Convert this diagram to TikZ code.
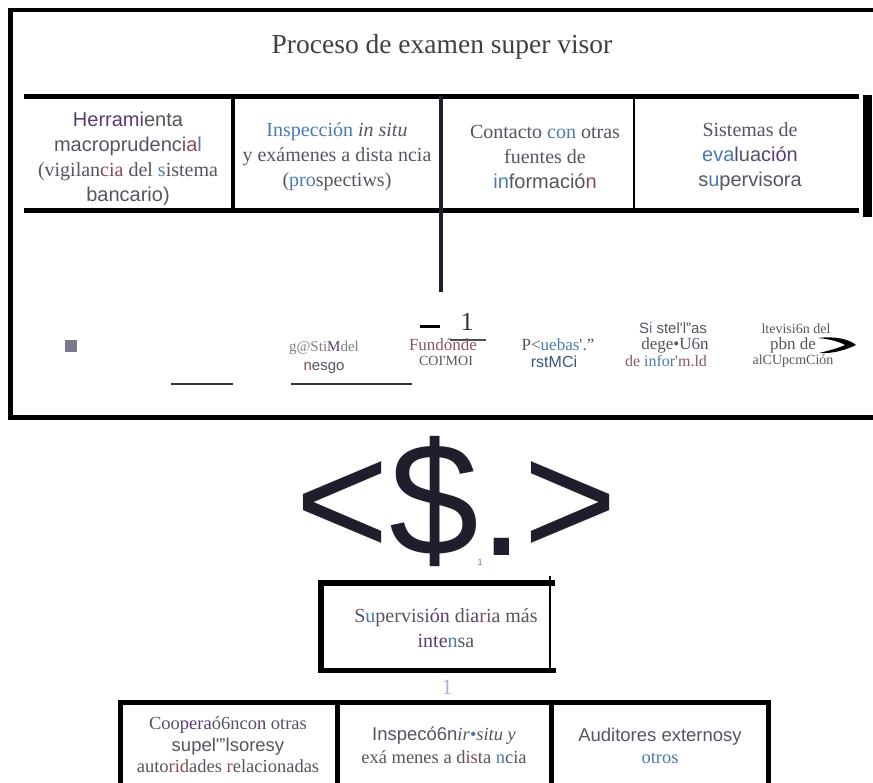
\documentclass[tikz,border=0pt]{standalone}
\usepackage{fontspec}
\setmainfont{Liberation Serif}
\setsansfont{Liberation Sans}
\definecolor{tgray}{HTML}{55555F}
\definecolor{tpur}{HTML}{5B3A78}
\definecolor{tblu}{HTML}{4A7AB0}
\definecolor{tred}{HTML}{8B4A55}
\definecolor{navy}{HTML}{201E2C}
\definecolor{lightb}{HTML}{A8B4CC}
\definecolor{sqcol}{HTML}{7A7A8C}
\newcommand\myfs[2]{\fontsize{#1}{#2}\selectfont}
\newcommand\cP[1]{\textcolor{tpur}{#1}}
\newcommand\cB[1]{\textcolor{tblu}{#1}}
\newcommand\cR[1]{\textcolor{tred}{#1}}
\newcommand\sq{\textquotesingle}
\tikzset{
  txt/.style={inner sep=0pt, text=tgray, align=center},
  cell/.style={txt, font=\myfs{20}{25}},
  heavy/.style={line width=5pt, black},
  medium/.style={line width=3.5pt, black},
  thin/.style={line width=2pt, black!85},
  bigglyph/.style={inner sep=0pt, font=\sffamily\myfs{161}{161}, text=navy},
}
\begin{document}
\begin{tikzpicture}[x=1pt,y=-1pt]
\useasboundingbox (0,0) rectangle (873,783);
% outer frame
\coordinate (f1) at (8,10); \coordinate (f2) at (873,10);
\coordinate (f3) at (10,8); \coordinate (f4) at (10,420);
\coordinate (f5) at (8,417.5); \coordinate (f6) at (873,417.5);
\draw[line width=4.5pt] (f1) -- (f2);
\draw[heavy] (f3) -- (f4);
\draw[heavy] (f5) -- (f6);
% title
\node[txt, font=\myfs{27.5}{30}, text=black!75] (title) at (442,47) {Proceso de examen super visor};
% table
\coordinate (t1) at (24,96.5); \coordinate (t2) at (859,96.5);
\coordinate (t3) at (24,210.5); \coordinate (t4) at (859,210.5);
\draw[heavy] (t1) -- (t2);
\draw[heavy] (t3) -- (t4);
\fill[black] (863,95) rectangle (872,217);
\coordinate (d1a) at (233,96); \coordinate (d1b) at (233,210);
\coordinate (d2a) at (441,96); \coordinate (d2b) at (441,292);
\coordinate (d3a) at (634,96); \coordinate (d3b) at (634,210);
\draw[medium] (d1a) -- (d1b);
\draw[line width=4.5pt, navy] (d2a) -- (d2b);
\draw[line width=2pt] (d3a) -- (d3b);
\node[cell] (c1) at (128,159) {{\sffamily\cP{Herram}\textcolor{tpur}{i}enta}\\
  {\sffamily macroprudenc\cR{ia}\cB{l}}\\
  (vigilan\cR{cia} del \cB{s}istema\\
  {\sffamily bancario)}};
\node[cell] (c2) at (337,157) {\cB{Inspección} \textit{in situ}\\
  y exámenes a dista ncia\\
  (\cB{pro}spectiws)};
\node[cell] (c3) at (545,157) {Contacto \cB{con} otras\\
  fuentes de\\
  {\sffamily \cB{in}formació\cR{n}}};
\node[cell] (c4) at (750,157) {Sistemas  de\\
  {\sffamily \cB{eva}\textcolor{tpur}{l}ua\cP{ción}}\\
  {\sffamily s\cB{u}pervisora}};
% middle row
\fill[sqcol] (65,340) rectangle (77,352);
\coordinate (m1a) at (171,384); \coordinate (m1b) at (233,384);
\coordinate (m2a) at (291,384); \coordinate (m2b) at (412,384);
\draw[thin, black!80] (m1a) -- (m1b);
\draw[thin, black!80] (m2a) -- (m2b);
\coordinate (da) at (420,327); \coordinate (db) at (440,327);
\draw[line width=3pt] (da) -- (db);
\node[txt, font=\myfs{26}{28}, text=black!80] (one) at (467,322) {1};
\coordinate (ua) at (450,340); \coordinate (ub) at (486,340);
\draw[line width=1.5pt, black!70] (ua) -- (ub);
\node[txt, font=\myfs{15}{16}, text=gray] (g1) at (324,348) {g@Sti\cP{M}del};
\node[txt, font=\sffamily\myfs{15}{16}] (g2) at (324,368) {\cR{n}esgo};
\node[txt, font=\myfs{17}{18}, text=tred!80!gray] (f1t) at (443,345) {Fundónde};
\node[txt, font=\myfs{14}{15}] (f2t) at (446,361) {COI\sq MOI};
\node[txt, font=\myfs{17}{18}] (p1) at (558,345) {P<\cB{uebas}\sq."};
\node[txt, font=\sffamily\myfs{16}{17}, text=tblu!70!black] (p2) at (554,362) {rstMCi};
\node[txt, font=\sffamily\myfs{15}{16}] (s1) at (673,328) {S\cB{i} stel\sq l"as};
\node[txt, font=\myfs{17}{18}] (s2) at (675,345) {dege•U6\cP{n}};
\node[txt, font=\myfs{16}{17}, text=tred!70!gray] (s3) at (666,361) {de \cB{infor}\sq m.ld};
\node[txt, font=\myfs{14}{15}] (r1) at (796,329) {ltevisi6n del};
\node[txt, font=\myfs{17}{18}] (r2) at (793,345) {pbn de};
\node[txt, font=\myfs{14}{15}] (r3) at (793,361) {alCUpcmCión};
\fill[black] (818,338) .. controls (835,336) and (849,339) .. (856,345)
  .. controls (846,350) and (832,354) .. (819,353)
  .. controls (832,350) and (841,347) .. (845,345)
  .. controls (838,341) and (828,339) .. (818,338) -- cycle;
% big symbol
\node[bigglyph, anchor=base west] (bigA) at (295,555) {<\$};
\node[bigglyph, anchor=base west] (bigB) at (bigA.base east) {.>};
\node[txt, font=\sffamily\myfs{9}{10}, text=tblu] (tiny) at (480,562) {1};
% supervision box
\coordinate (b1) at (318,583); \coordinate (b2) at (555,583);
\coordinate (b3) at (320.5,580); \coordinate (b4) at (320.5,672);
\coordinate (b5) at (318,670); \coordinate (b6) at (556,670);
\coordinate (b7) at (550,576); \coordinate (b8) at (550,670);
\draw[line width=6pt] (b1) -- (b2);
\draw[line width=6pt] (b3) -- (b4);
\draw[heavy] (b5) -- (b6);
\draw[line width=2pt] (b7) -- (b8);
\node[cell] (sup) at (446,628) {S\cB{u}pervisi\cP{ón} di\cP{a}\cR{ri}a más\\ \cP{inte}\cB{n}sa};
\node[txt, font=\myfs{22}{24}, text=lightb] (one2) at (447,687) {1};
% bottom row
\coordinate (q1) at (118,702); \coordinate (q2) at (770,702);
\draw[heavy] (q1) -- (q2);
\foreach \x/\n in {120/qa,337/qb,551/qc,768/qd}{
  \coordinate (\n1) at (\x,700); \coordinate (\n2) at (\x,790);
  \draw[heavy] (\n1) -- (\n2);
}
\node[txt, font=\myfs{18.5}{21.5}] (e1) at (228,745) {Coo\cP{pera}ó6nco\cP{n} otras\\
  {\sffamily supel\sq"lsoresy}\\
  auto\cR{rid}ades \cR{r}elacionadas};
\node[txt, font=\myfs{18.5}{23}] (e2) at (444,745) {{\sffamily Inspecó6n}\textit{ir\cB{•}situ y}\\
  exá menes  a d\cR{is}ta \cB{n}cia};
\node[txt, font=\myfs{18.5}{22}] (e3) at (660,746) {{\sffamily Auditores externosy}\\
  \cB{otros}};
\end{tikzpicture}
\end{document}
